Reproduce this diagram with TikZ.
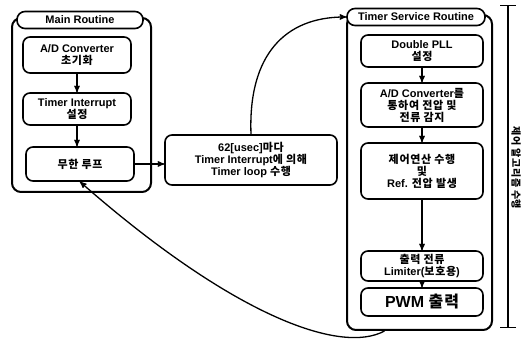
\documentclass[tikz,border=0pt]{standalone}
\usepackage{fontspec}
\setmainfont{Liberation Sans}
\newfontfamily\kr{Noto Sans CJK KR}[LetterSpace=6]
\usetikzlibrary{arrows,arrows.meta}

\begin{document}
\begin{tikzpicture}[x=1pt,y=-1pt,->,>=stealth',line width=1.3pt,
	font=\fontsize{11}{12}\selectfont\bfseries,
	routine/.style={draw,line width=2pt,rounded corners=9pt,inner sep=0pt},
	tab/.style={draw,line width=1.6pt,fill=white,rounded corners=8pt,minimum height=17pt,inner sep=1pt},
	stepbox/.style={draw,line width=1.6pt,rounded corners=7pt,align=center,inner sep=1pt}]
	\useasboundingbox (0,0) rectangle (523,350);
	
	% main routine
	\node[routine,minimum width=139pt,minimum height=174pt] (main) at (81.5,105) {};
	\node[tab,minimum width=126pt] (mainhead) at (80,20) {Main Routine};
	\node[stepbox,minimum width=108pt,minimum height=36pt] (adinit) at (77,55) {A/D Converter\\{\kr 초기화}};
	\node[stepbox,minimum width=108pt,minimum height=32pt] (tiset) at (77,109) {Timer Interrupt\\{\kr 설정}};
	\node[stepbox,minimum width=108pt,minimum height=34pt] (loop) at (80,164) {{\kr 무한 루프}};
	
	% interrupt
	\node[stepbox,minimum width=172pt,minimum height=50pt] (tick) at (251,160)
		{62[usec]{\kr 마다}\\Timer Interrupt{\kr 에 의해}\\Timer loop {\kr 수행}};
	
	% timer service routine
	\node[routine,minimum width=145pt,minimum height=315pt] (tsr) at (419.5,172.5) {};
	\node[tab,minimum width=138pt] (tsrhead) at (416,17) {Timer Service Routine};
	\node[stepbox,minimum width=122pt,minimum height=32pt] (pll) at (422,51) {Double PLL\\{\kr 설정}};
	\node[stepbox,minimum width=122pt,minimum height=44pt] (adc) at (422,105)
		{A/D Converter{\kr 를}\\{\kr 통하여 전압 및}\\{\kr 전류 감지}};
	\node[stepbox,minimum width=122pt,minimum height=56pt] (ctrl) at (422,171)
		{{\kr 제어연산 수행}\\{\kr 및}\\Ref. {\kr 전압 발생}};
	\node[stepbox,minimum width=122pt,minimum height=30pt] (lim) at (422,266)
		{{\kr 출력 전류}\\Limiter({\kr 보호용})};
	\node[stepbox,minimum width=122pt,minimum height=28pt,font=\fontsize{16}{18}\selectfont\bfseries] (pwm) at (422,302)
		{PWM {\kr 출력}};
	
	% range bar
	\coordinate (bartop) at (508,5);
	\coordinate (barbot) at (508,328);
	\draw[{Bar[width=16pt]}-{Bar[width=16pt]},line width=1.2pt] (bartop) -- (barbot);
	\node[rotate=-90,font=\fontsize{10}{11}\selectfont\bfseries] (algo) at (516,168) {{\kr 제어 알고리즘 수행}};
	
	\draw (adinit) -- (tiset);
	\draw (tiset.south) -- (tiset.south |- loop.north);
	\draw (loop.east) -- (loop.east -| tick.west);
	\draw (tick.north) .. controls (248,55) and (285,17) .. (tsrhead.west);
	\draw (pll) -- (adc);
	\draw (adc) -- (ctrl);
	\draw (ctrl) -- (lim);
	\draw (lim) -- (pwm);
	\coordinate (tsrout) at ([xshift=-35pt]tsr.south);
	\draw (tsrout) .. controls (340,355) and (232,315) .. (loop.south);
\end{tikzpicture}
\end{document}
